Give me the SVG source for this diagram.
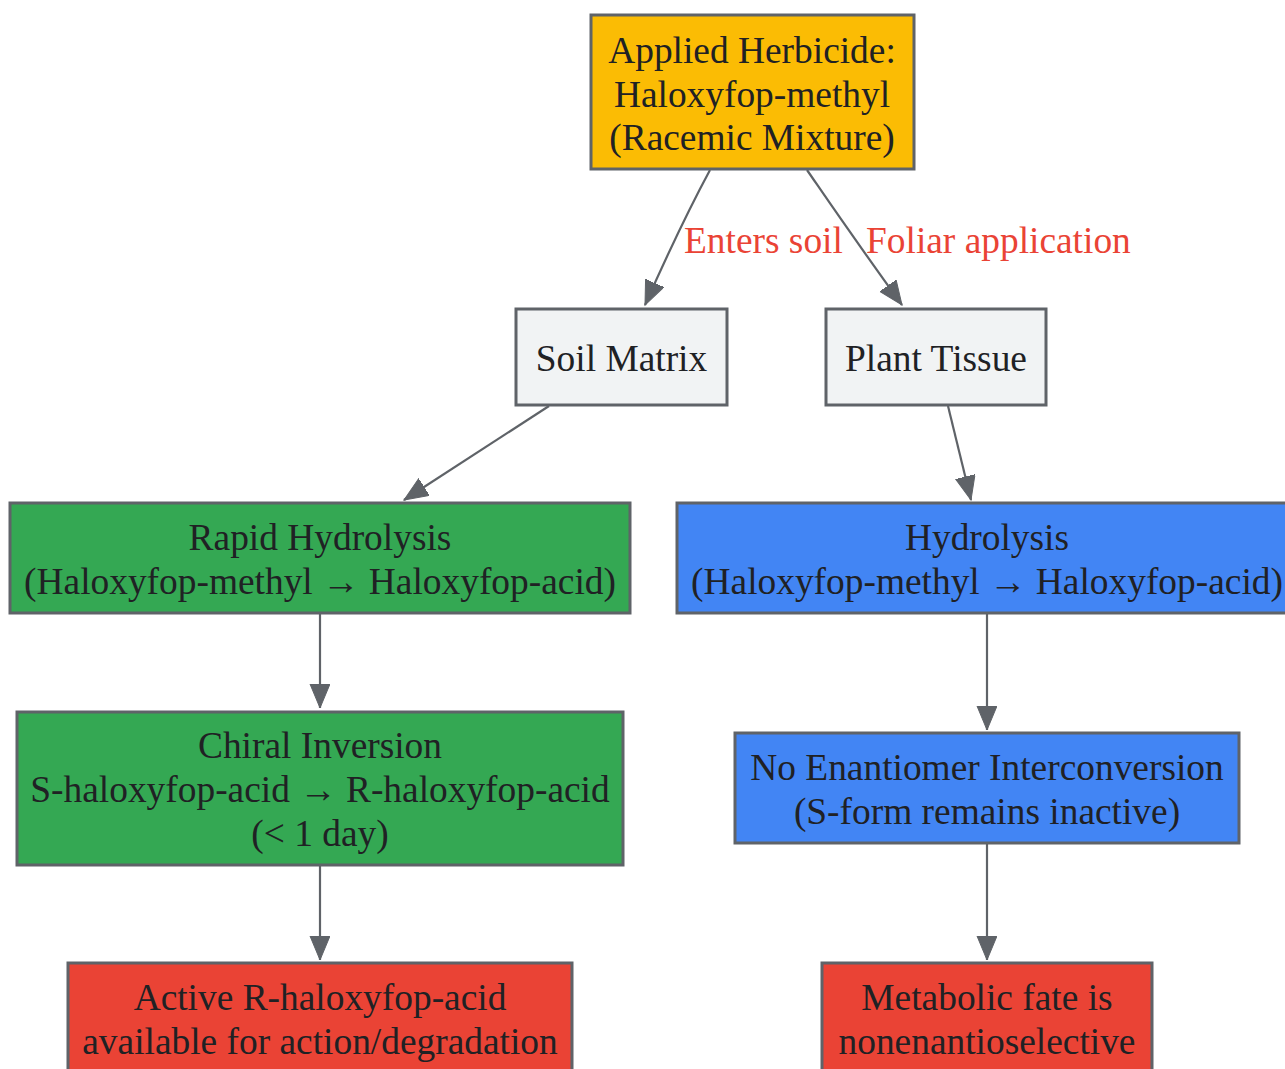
<svg xmlns="http://www.w3.org/2000/svg" width="1285" height="1069" viewBox="0 0 1285 1069">
<style>
.n rect{stroke:#5f6368;stroke-width:3}
.n text{font-family:"Liberation Serif","Times New Roman",serif;font-size:37.4px;fill:#202124;text-anchor:middle}
.e path{fill:none;stroke:#5f6368;stroke-width:2.2;marker-end:url(#ah)}
.lbl{font-family:"Liberation Serif","Times New Roman",serif;font-size:37.4px;fill:#ea4335}
</style>
<defs>
<marker id="ah" markerUnits="userSpaceOnUse" markerWidth="26" markerHeight="22" refX="24" refY="10" orient="auto" viewBox="0 0 26 22">
<path d="M0,0 L24,10 L0,20 z" fill="#5f6368" stroke="#5f6368" stroke-width="1"/>
</marker>
</defs>
<rect width="1285" height="1069" fill="#ffffff"/>
<g id="edges" class="e">
<path d="M710,170 C696,196 680,226 645,305"/>
<path d="M807,170 C825,196 845,226 902,305"/>
<path d="M549,406 L404,500"/>
<path d="M948,406 L971,500"/>
<path d="M320,614 L320,708"/>
<path d="M320,866 L320,960"/>
<path d="M987,614 L987,730"/>
<path d="M987,844 L987,960"/>
</g>
<g id="edge-labels">
<text class="lbl" x="684" y="253">Enters soil</text>
<text class="lbl" x="866" y="253">Foliar application</text>
</g>
<g id="n_applied" class="n">
<rect x="591" y="15" width="323" height="154" fill="#fbbc04"/>
<text x="752" y="63">Applied Herbicide:</text>
<text x="752" y="107">Haloxyfop-methyl</text>
<text x="752" y="150">(Racemic Mixture)</text>
</g>
<g id="n_soil" class="n">
<rect x="516" y="309" width="211" height="96" fill="#f1f3f4"/>
<text x="621.5" y="371">Soil Matrix</text>
</g>
<g id="n_plant" class="n">
<rect x="826" y="309" width="220" height="96" fill="#f1f3f4"/>
<text x="936" y="371">Plant Tissue</text>
</g>
<g id="n_rapid" class="n">
<rect x="10" y="503" width="620" height="110" fill="#34a853"/>
<text x="320" y="550">Rapid Hydrolysis</text>
<text x="320" y="594">(Haloxyfop-methyl → Haloxyfop-acid)</text>
</g>
<g id="n_hydro" class="n">
<rect x="677" y="503" width="620" height="110" fill="#4285f4"/>
<text x="987" y="550">Hydrolysis</text>
<text x="987" y="594">(Haloxyfop-methyl → Haloxyfop-acid)</text>
</g>
<g id="n_chiral" class="n">
<rect x="17" y="712" width="606" height="153" fill="#34a853"/>
<text x="320" y="758">Chiral Inversion</text>
<text x="320" y="802">S-haloxyfop-acid → R-haloxyfop-acid</text>
<text x="320" y="846">(&lt; 1 day)</text>
</g>
<g id="n_noenant" class="n">
<rect x="735" y="733" width="504" height="110" fill="#4285f4"/>
<text x="987" y="780">No Enantiomer Interconversion</text>
<text x="987" y="824">(S-form remains inactive)</text>
</g>
<g id="n_active" class="n">
<rect x="68" y="963" width="504" height="120" fill="#ea4335"/>
<text x="320" y="1010">Active R-haloxyfop-acid</text>
<text x="320" y="1054">available for action/degradation</text>
</g>
<g id="n_metabolic" class="n">
<rect x="822" y="963" width="330" height="120" fill="#ea4335"/>
<text x="987" y="1010">Metabolic fate is</text>
<text x="987" y="1054">nonenantioselective</text>
</g>
</svg>
